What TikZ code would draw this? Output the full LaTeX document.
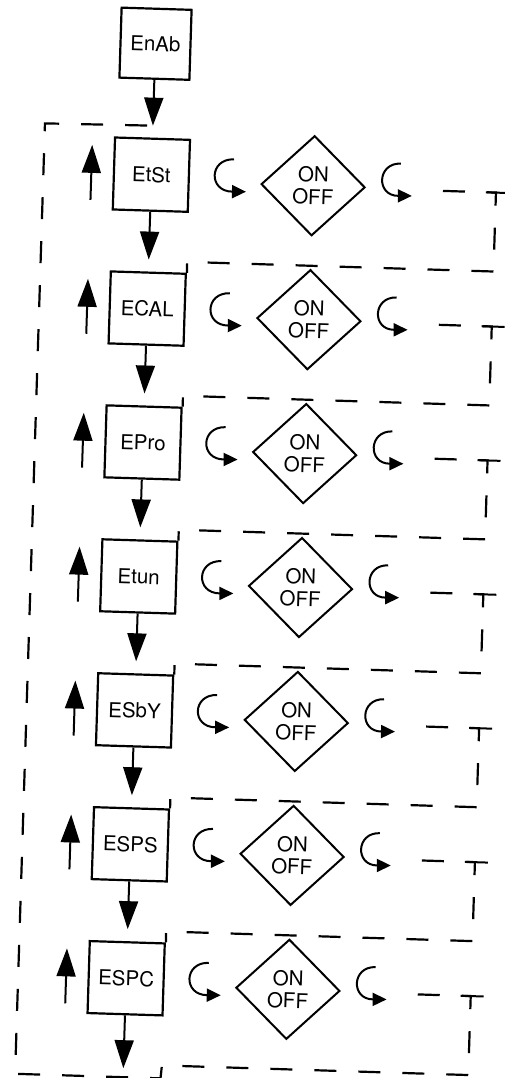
\documentclass[tikz,border=0pt]{standalone}
\usepackage{fontspec}
\setmainfont{TeX Gyre Heros}
\usetikzlibrary{arrows.meta,shapes.geometric}

\begin{document}
\begin{tikzpicture}[x=1pt,y=1pt]
    \tikzstyle{box}=[draw,line width=2.2pt,minimum width=75pt,minimum height=72pt,
        inner sep=0pt,font=\fontsize{20.5}{22.5}\selectfont]
    \tikzstyle{onoff}=[draw,diamond,line width=2pt,minimum width=104pt,
        minimum height=100pt,inner sep=0pt,align=center,font=\fontsize{20.5}{22.5}\selectfont]
    \tikzstyle{flow}=[line width=2pt,-{Triangle[length=28pt,width=19pt]}]
    \tikzstyle{curl}=[line width=2pt,-{Triangle[length=14pt,width=13pt]}]
    \tikzstyle{ret}=[line width=2.2pt,dash pattern=on 22pt off 22pt]
    \useasboundingbox (0,0) rectangle (504,1078);
    \begin{scope}[rotate around={-1.8:(252,539)},transform shape]
    % Boxes
    \node[box,minimum width=70pt,minimum height=70pt] (EnAb) at (140,1031) {EnAb};
    \node[box] (EtSt) at (140,900) {EtSt};
    \node[box] (ECAL) at (140,766) {ECAL};
    \node[box] (EPro) at (140,632) {EPro};
    \node[box] (Etun) at (140,498) {Etun};
    \node[box] (ESbY) at (140,364) {ESbY};
    \node[box] (ESPS) at (140,230) {ESPS};
    \node[box] (ESPC) at (140,96) {ESPC};
    % Switches
    \node[onoff] (sw1) at (302,894) {ON\\OFF};
    \node[onoff] (sw2) at (302,760) {ON\\OFF};
    \node[onoff] (sw3) at (302,626) {ON\\OFF};
    \node[onoff] (sw4) at (302,492) {ON\\OFF};
    \node[onoff] (sw5) at (302,358) {ON\\OFF};
    \node[onoff] (sw6) at (302,224) {ON\\OFF};
    \node[onoff] (sw7) at (302,90) {ON\\OFF};
    % Frame corners
    \coordinate (fr1) at (177.5,-3);
    \coordinate (fr2) at (32,-3);
    \coordinate (fr3) at (32,948);
    \coordinate (out) at (140,6);
    % Main flow
    \draw[flow] (EnAb) -- ([yshift=12]EtSt.north);
    \draw[flow] (EtSt) -- ([yshift=12]ECAL.north);
    \draw[flow] (ECAL) -- ([yshift=12]EPro.north);
    \draw[flow] (EPro) -- ([yshift=12]Etun.north);
    \draw[flow] (Etun) -- ([yshift=12]ESbY.north);
    \draw[flow] (ESbY) -- ([yshift=12]ESPS.north);
    \draw[flow] (ESPS) -- ([yshift=12]ESPC.north);
    \draw[flow] (ESPC) -- (out);
    % Up arrows
    \draw[flow] ([xshift=-21.5,yshift=-27]EtSt.west) -- ++(0,55);
    \draw[flow] ([xshift=-21.5,yshift=-27]ECAL.west) -- ++(0,55);
    \draw[flow] ([xshift=-21.5,yshift=-27]EPro.west) -- ++(0,55);
    \draw[flow] ([xshift=-21.5,yshift=-27]Etun.west) -- ++(0,55);
    \draw[flow] ([xshift=-21.5,yshift=-27]ESbY.west) -- ++(0,55);
    \draw[flow] ([xshift=-21.5,yshift=-27]ESPS.west) -- ++(0,55);
    \draw[flow] ([xshift=-21.5,yshift=-27]ESPC.west) -- ++(0,55);
    % Curls in
    \draw[curl] ([xshift=43.5,yshift=18]EtSt.east) .. controls +(-25,0) and +(-38,-1) .. ([xshift=56.5,yshift=-14]EtSt.east);
    \draw[curl] ([xshift=43.5,yshift=18]ECAL.east) .. controls +(-25,0) and +(-38,-1) .. ([xshift=56.5,yshift=-14]ECAL.east);
    \draw[curl] ([xshift=43.5,yshift=18]EPro.east) .. controls +(-25,0) and +(-38,-1) .. ([xshift=56.5,yshift=-14]EPro.east);
    \draw[curl] ([xshift=43.5,yshift=18]Etun.east) .. controls +(-25,0) and +(-38,-1) .. ([xshift=56.5,yshift=-14]Etun.east);
    \draw[curl] ([xshift=43.5,yshift=18]ESbY.east) .. controls +(-25,0) and +(-38,-1) .. ([xshift=56.5,yshift=-14]ESbY.east);
    \draw[curl] ([xshift=43.5,yshift=18]ESPS.east) .. controls +(-25,0) and +(-38,-1) .. ([xshift=56.5,yshift=-14]ESPS.east);
    \draw[curl] ([xshift=43.5,yshift=18]ESPC.east) .. controls +(-25,0) and +(-38,-1) .. ([xshift=56.5,yshift=-14]ESPC.east);
    % Curls out
    \draw[curl] ([xshift=34,yshift=25]sw1.east) .. controls +(-24,0) and +(-36,-1) .. ([xshift=46,yshift=-7]sw1.east);
    \draw[curl] ([xshift=34,yshift=25]sw2.east) .. controls +(-24,0) and +(-36,-1) .. ([xshift=46,yshift=-7]sw2.east);
    \draw[curl] ([xshift=34,yshift=25]sw3.east) .. controls +(-24,0) and +(-36,-1) .. ([xshift=46,yshift=-7]sw3.east);
    \draw[curl] ([xshift=34,yshift=25]sw4.east) .. controls +(-24,0) and +(-36,-1) .. ([xshift=46,yshift=-7]sw4.east);
    \draw[curl] ([xshift=34,yshift=25]sw5.east) .. controls +(-24,0) and +(-36,-1) .. ([xshift=46,yshift=-7]sw5.east);
    \draw[curl] ([xshift=34,yshift=25]sw6.east) .. controls +(-24,0) and +(-36,-1) .. ([xshift=46,yshift=-7]sw6.east);
    \draw[curl] ([xshift=34,yshift=25]sw7.east) .. controls +(-24,0) and +(-36,-1) .. ([xshift=46,yshift=-7]sw7.east);
    % Return lines
    \draw[ret] ([xshift=77,yshift=-1]sw1.east) -- ++(53,0) coordinate (t1) -- ++(0,-79) -- ++(-306.5,0) -- (ECAL.north east);
    \draw[ret] ([xshift=77,yshift=-1]sw2.east) -- ++(53,0) coordinate (t2) -- ++(0,-79) -- ++(-306.5,0) -- (EPro.north east);
    \draw[ret] ([xshift=77,yshift=-1]sw3.east) -- ++(53,0) coordinate (t3) -- ++(0,-79) -- ++(-306.5,0) -- (Etun.north east);
    \draw[ret] ([xshift=77,yshift=-1]sw4.east) -- ++(53,0) coordinate (t4) -- ++(0,-79) -- ++(-306.5,0) -- (ESbY.north east);
    \draw[ret] ([xshift=77,yshift=-1]sw5.east) -- ++(53,0) coordinate (t5) -- ++(0,-79) -- ++(-306.5,0) -- (ESPS.north east);
    \draw[ret] ([xshift=77,yshift=-1]sw6.east) -- ++(53,0) coordinate (t6) -- ++(0,-79) -- ++(-306.5,0) -- (ESPC.north east);
    \draw[ret] ([xshift=77,yshift=-1]sw7.east) -- ++(53,0) coordinate (t7) -- ++(0,-79) -- ++(-306.5,0)
        -- (fr1) -- (fr2) -- (fr3) -- ([yshift=12]EtSt.north);
    % T ends
    \foreach \i in {1,...,7}
        \draw[line width=2pt] ([xshift=-10]t\i) -- ([xshift=13]t\i);
    \end{scope}
\end{tikzpicture}
\end{document}
